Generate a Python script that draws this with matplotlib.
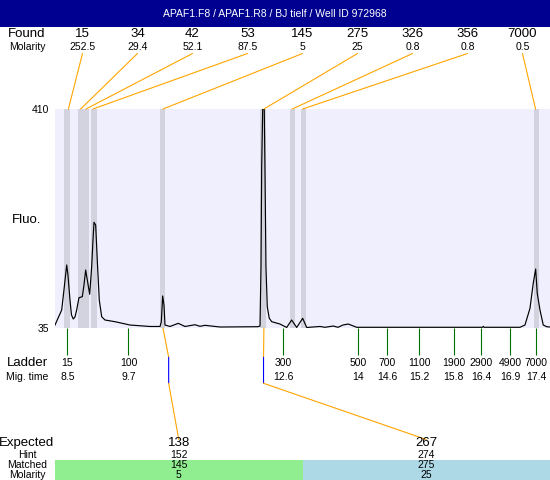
import matplotlib
matplotlib.use("Agg")
from matplotlib import pyplot as plt
from matplotlib.patches import Rectangle, ConnectionPatch
from matplotlib.transforms import blended_transform_factory

plt.rcParams['font.family'] = ['Liberation Sans', 'DejaVu Sans']

title = "APAF1.F8 / APAF1.R8 / BJ tielf / Well ID 972968"

# electropherogram: migration time (s) vs fluorescence
trace_time = [8.267, 8.394, 8.437, 8.489, 8.513, 8.551, 8.580, 8.614, 8.646, 8.678,
              8.722, 8.785, 8.817, 8.849, 8.880, 8.925, 8.963, 8.988, 9.007, 9.039,
              9.069, 9.107, 9.153, 9.215, 9.405, 9.690, 10.069, 10.259, 10.284, 10.310,
              10.335, 10.354, 10.449, 10.606, 10.733, 10.923, 11.018, 11.113, 11.398, 12.119,
              12.157, 12.176, 12.189, 12.208, 12.238, 12.251, 12.270, 12.295, 12.333, 12.379,
              12.536, 12.663, 12.758, 12.853, 12.967, 13.043, 13.295, 13.390, 13.547, 13.637,
              13.731, 13.832, 13.991, 14.813, 16.380, 16.394, 16.410, 17.090, 17.185, 17.280,
              17.342, 17.388, 17.418, 17.470, 17.532, 17.597, 17.660]
trace_fluo = [40.1, 65.8, 100.1, 142.9, 125.7, 82.9, 57.3, 50.4, 53.8, 65.8,
              86.9, 88.6, 108.6, 134.3, 117.2, 92.7, 140.0, 185.7, 216.0, 211.3,
              151.4, 82.9, 54.3, 48.7, 45.8, 40.1, 37.6, 37.6, 45.3, 89.8,
              74.4, 40.1, 37.6, 43.0, 37.6, 40.6, 37.9, 39.6, 36.7, 37.2,
              38.4, 140.0, 311.2, 409.4, 409.4, 311.2, 140.0, 71.5, 51.6, 45.8,
              41.8, 35.9, 48.7, 35.9, 51.6, 35.9, 37.6, 36.2, 38.4, 36.2,
              40.1, 41.8, 36.2, 36.2, 36.2, 37.8, 36.2, 36.2, 40.1, 68.7,
              111.5, 136.0, 94.4, 65.8, 40.1, 37.2, 36.7]

found_size = ['15', '34', '42', '53', '145', '275', '326', '356', '7000']
found_molarity = ['252.5', '29.4', '52.1', '87.5', '5', '25', '0.8', '0.8', '0.5']
found_time = [8.521, 8.754, 8.855, 8.988, 10.316, 12.231, 12.769, 12.966, 17.386]
found_start = [8.437, 8.703, 8.798, 8.950, 10.259, 12.157, 12.731, 12.940, 17.361]
found_end = [8.551, 8.817, 8.912, 9.064, 10.354, 12.270, 12.826, 13.035, 17.456]

ladder_size = ['15', '100', '300', '500', '700', '1100', '1900', '2900', '4900', '7000']
ladder_time = [8.5, 9.661, 12.601, 14.024, 14.572, 15.181, 15.830, 16.360, 16.906, 17.401]

expected_size = ['138', '267']
hint_size = ['152', '274']
hint_time = [10.424, 12.224]
matched_size = ['145', '275']
matched_molarity = ['5', '25']
matched_time = [10.316, 12.231]
matched_color = ['#90EE90', '#ADD8E6']

W, H = 550, 480
fig = plt.figure(figsize=(W / 100, H / 100), dpi=100)


def fy(py):
    return 1 - py / H


def fx(px):
    return px / W


ax = fig.add_axes([fx(55), fy(328), fx(495), 219 / H])
ax.set_facecolor('#EFEFFD')
for s in ax.spines.values():
    s.set_visible(False)
ax.set_xlim(8.267, 17.66)
ax.set_ylim(35, 410)
ax.set_xticks([])
ax.set_yticks([35, 410])
ax.tick_params(axis='y', length=0, pad=4, labelsize=7.5)

for a, b in zip(found_start, found_end):
    ax.axvspan(a, b, color='#D3D3E0', lw=0, zorder=1)
ax.plot(trace_time, trace_fluo, color='black', lw=0.85, zorder=3)

bt = blended_transform_factory(ax.transAxes, fig.transFigure)
dt = blended_transform_factory(ax.transData, fig.transFigure)
xt = ax.get_xaxis_transform()

# title bar
fig.add_artist(Rectangle((0, fy(26.7)), 1, 26.7 / H, transform=fig.transFigure,
                         color='#000090', lw=0, zorder=0))
fig.text(0.5, fy(14.3), title, color='white', fontsize=7.5, ha='center', va='center')

# found peaks
n = len(found_size)
fig.text(fx(27), fy(34.3), 'Found', fontsize=9.5, ha='center', va='center')
fig.text(fx(27), fy(46.7), 'Molarity', fontsize=7.5, ha='center', va='center')
for i in range(n):
    xc = (i + 0.5) / n
    fig.text(xc, fy(34.3), found_size[i], transform=bt, fontsize=9.5, ha='center', va='center')
    fig.text(xc, fy(46.7), found_molarity[i], transform=bt, fontsize=7.5, ha='center', va='center')
    fig.add_artist(ConnectionPatch(xyA=(xc, fy(53.5)), coordsA=bt,
                                   xyB=(found_time[i], 1), coordsB=xt,
                                   color='orange', lw=0.8))

fig.text(fx(26.5), fy(220), 'Fluo.', fontsize=9.5, ha='center', va='center')

# ladder
ax.vlines(ladder_time, -27 / 219, 0, transform=xt, colors='#007000', lw=0.8, clip_on=False)
fig.text(fx(27), fy(363.3), 'Ladder', fontsize=9.5, ha='center', va='center')
fig.text(fx(27), fy(376.7), 'Mig. time', fontsize=7.5, ha='center', va='center')
for s, t in zip(ladder_size, ladder_time):
    fig.text(t, fy(363.3), s, transform=dt, fontsize=7.5, ha='center', va='center')
    fig.text(t, fy(376.7), '%g' % round(t, 1), transform=dt, fontsize=7.5, ha='center', va='center')

# expected / matched table
m = len(expected_size)
for lab, yy, fs in [('Expected', 443.3, 9.5), ('Hint', 455, 7.5),
                    ('Matched', 465.5, 7.5), ('Molarity', 475, 7.5)]:
    fig.text(fx(27), fy(yy), lab, fontsize=fs, ha='center', va='center')
for j in range(m):
    xc = (j + 0.5) / m
    fig.add_artist(Rectangle((j / m, 0), 1 / m, (480 - 459.7) / H, transform=bt,
                             color=matched_color[j], lw=0, zorder=0))
    fig.text(xc, fy(443.3), expected_size[j], transform=bt, fontsize=9.5, ha='center', va='center')
    fig.text(xc, fy(455), hint_size[j], transform=bt, fontsize=7.5, ha='center', va='center')
    fig.text(xc, fy(465.5), matched_size[j], transform=bt, fontsize=7.5, ha='center', va='center')
    fig.text(xc, fy(475), matched_molarity[j], transform=bt, fontsize=7.5, ha='center', va='center')
    fig.add_artist(ConnectionPatch(xyA=(matched_time[j], 0), coordsA=xt,
                                   xyB=(hint_time[j], fy(357.3)), coordsB=dt,
                                   color='orange', lw=0.8))
    fig.add_artist(ConnectionPatch(xyA=(hint_time[j], fy(357.3)), coordsA=dt,
                                   xyB=(hint_time[j], fy(383.3)), coordsB=dt,
                                   color='blue', lw=0.8))
    fig.add_artist(ConnectionPatch(xyA=(hint_time[j], fy(383.3)), coordsA=dt,
                                   xyB=(xc, fy(439.5)), coordsB=bt,
                                   color='orange', lw=0.8))

fig.savefig('out.png', dpi=100)
